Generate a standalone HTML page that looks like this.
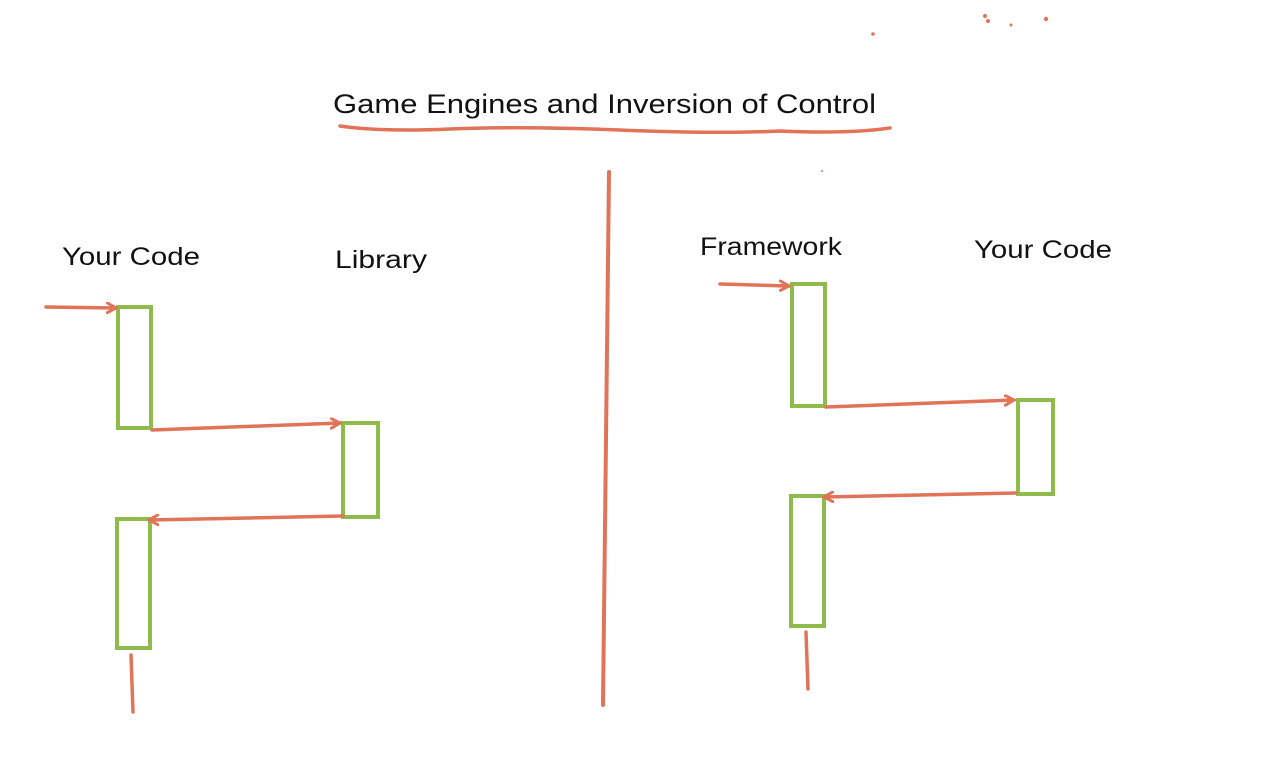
<!DOCTYPE html>
<html><head><meta charset="utf-8"><style>
html,body{margin:0;padding:0;background:#fff;}
svg{display:block}
text{font-family:"Liberation Sans",sans-serif;fill:#111;}
</style></head><body>
<svg width="1280" height="778" viewBox="0 0 1280 778">
<defs>
<marker id="ah" markerWidth="12" markerHeight="12" refX="10" refY="6" orient="auto" markerUnits="userSpaceOnUse">
<path d="M1,1 L10,6 L1,11" fill="none" stroke="#e07358" stroke-width="3" stroke-linecap="round"/>
</marker>
</defs>
<g fill="#e07358">
<circle cx="873" cy="34" r="1.8"/><circle cx="985" cy="16" r="2"/><circle cx="988" cy="21" r="2"/><circle cx="1011" cy="25" r="1.5"/><circle cx="1046" cy="19" r="2.2"/><circle cx="822" cy="171" r="1"/>
</g>
<text x="333" y="113" font-size="27" textLength="543" lengthAdjust="spacingAndGlyphs">Game Engines and Inversion of Control</text>
<path d="M340,126 Q380,132 450,129 T620,130 T780,131 Q850,134 890,128" fill="none" stroke="#e07358" stroke-width="3.5" stroke-linecap="round"/>
<line x1="609" y1="172" x2="603" y2="705" stroke="#e07358" stroke-width="4" stroke-linecap="round"/>
<g stroke-linecap="round">
<text x="62" y="265" font-size="25" textLength="138" lengthAdjust="spacingAndGlyphs">Your Code</text>
<text x="335" y="268" font-size="25" textLength="92" lengthAdjust="spacingAndGlyphs">Library</text>
<rect x="118" y="307" width="33" height="121" fill="none" stroke="#8fbb4c" stroke-width="4"/>
<rect x="343" y="423" width="35" height="94" fill="none" stroke="#8fbb4c" stroke-width="4"/>
<rect x="117" y="519" width="33" height="129" fill="none" stroke="#8fbb4c" stroke-width="4"/>
<line x1="46" y1="307" x2="116" y2="308" stroke="#e07358" stroke-width="3.5" marker-end="url(#ah)"/>
<line x1="152" y1="430" x2="340" y2="423" stroke="#e07358" stroke-width="3.5" marker-end="url(#ah)"/>
<line x1="343" y1="516" x2="149" y2="520" stroke="#e07358" stroke-width="3.5" marker-end="url(#ah)"/>
<line x1="131" y1="655" x2="133" y2="712" stroke="#e07358" stroke-width="3.5"/>
</g>
<g stroke-linecap="round">
<text x="700" y="255" font-size="25" textLength="142" lengthAdjust="spacingAndGlyphs">Framework</text>
<text x="974" y="258" font-size="25" textLength="138" lengthAdjust="spacingAndGlyphs">Your Code</text>
<rect x="792" y="284" width="33" height="122" fill="none" stroke="#8fbb4c" stroke-width="4"/>
<rect x="1018" y="400" width="35" height="94" fill="none" stroke="#8fbb4c" stroke-width="4"/>
<rect x="791" y="496" width="33" height="130" fill="none" stroke="#8fbb4c" stroke-width="4"/>
<line x1="720" y1="284" x2="789" y2="286" stroke="#e07358" stroke-width="3.5" marker-end="url(#ah)"/>
<line x1="826" y1="407" x2="1014" y2="400" stroke="#e07358" stroke-width="3.5" marker-end="url(#ah)"/>
<line x1="1016" y1="493" x2="824" y2="497" stroke="#e07358" stroke-width="3.5" marker-end="url(#ah)"/>
<line x1="806" y1="632" x2="808" y2="689" stroke="#e07358" stroke-width="3.5"/>
</g>
</svg>
</body></html>
